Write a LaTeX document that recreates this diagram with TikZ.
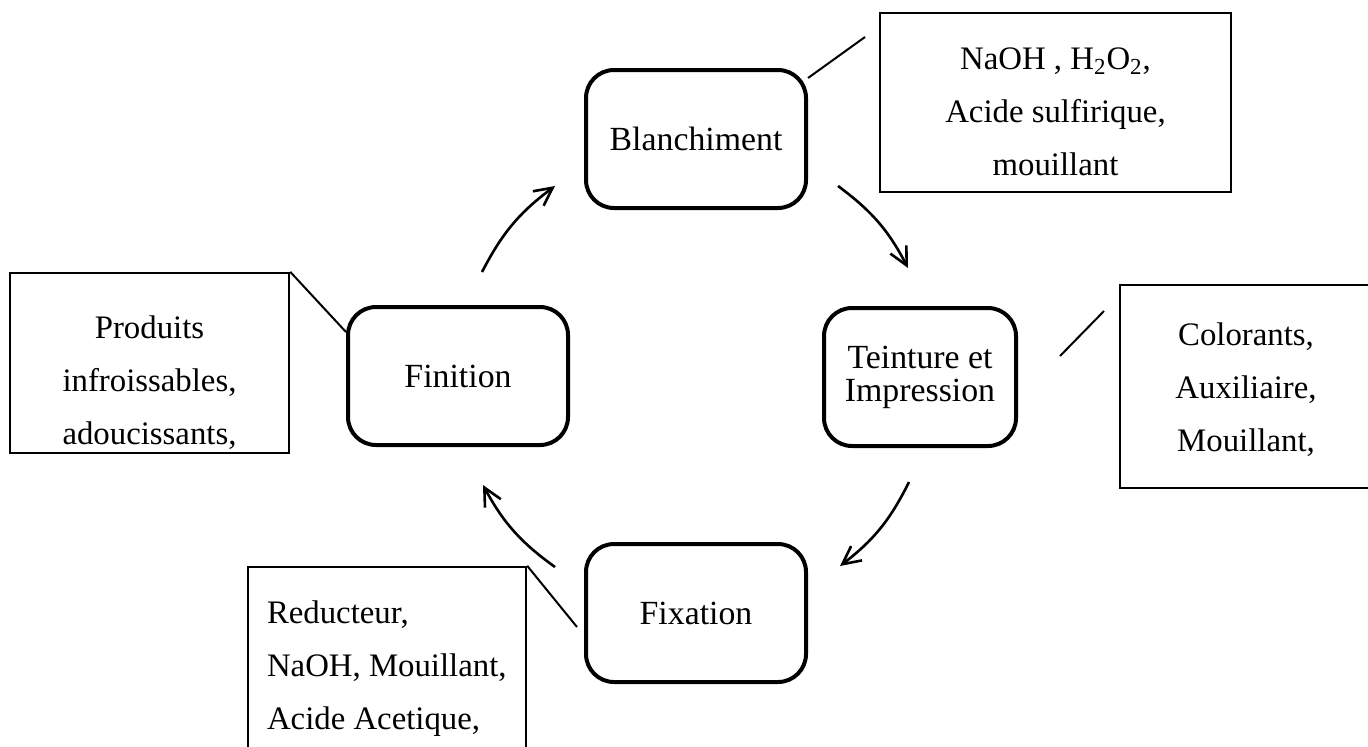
\documentclass[tikz,border=0pt]{standalone}
\usepackage{fontspec}
\setmainfont{Liberation Serif}
\usetikzlibrary{arrows.meta,positioning}

\tikzset{
  process/.style={draw, line width=2pt, rounded corners=14pt, minimum width=110pt, minimum height=69pt, align=center, font=\fontsize{16.9}{16.5}\selectfont},
  note/.style={draw, line width=1.2pt, inner sep=0pt, align=flush center},
  link/.style={line width=1pt},
  cycle/.style={-{Straight Barb[length=9pt,width=9pt]}, line width=1.3pt, bend left=13},
}

\begin{document}
\begin{tikzpicture}[x=0.5pt,y=-0.5pt,on grid,font=\fontsize{16.4}{26.5}\selectfont]
\useasboundingbox (0,0) rectangle (1368,746);
\clip (0,0) rectangle (1368,746);

% stages
\node[process] (blanch) at (696,139) {Blanchiment};
\node[process, minimum width=96pt] (teint) [below right=119pt and 112pt of blanch] {Teinture et\\Impression};
\node[process] (fixat) [below=237pt of blanch] {Fixation};
\node[process] (finit) [below left=118.5pt and 119pt of blanch] {Finition};

% products
\node[note, text width=175.5pt, text height=28pt, text depth=61.5pt] (blanchNote) [above right=18.25pt and 179.75pt of blanch] {NaOH , H\textsubscript{2}O\textsubscript{2},\\Acide sulfirique,\\mouillant};
\node[note, text width=126pt, text height=30pt, text depth=71.5pt] (teintNote) [right=163pt of teint, yshift=-4.75pt] {Colorants,\\Auxiliaire,\\Mouillant,};
\node[note, text width=139.5pt, text height=32.5pt, text depth=57.5pt] (finitNote) [left=154.25pt of finit, yshift=6.5pt] {Produits\\infroissables,\\adoucissants,};
\node[note, align=flush left, inner xsep=9.5pt, text width=120pt, text height=28pt, text depth=88.5pt] (fixatNote) [below left=35.25pt and 154.5pt of fixat] {Reducteur,\\NaOH, Mouillant,\\Acide Acetique,};

% links
\coordinate (blanchEnd) at (865,37);
\coordinate (teintA) at (1060,356);
\coordinate (teintB) at (1104,311);
\draw[link] ([yshift=30.5pt]blanch.east) -- (blanchEnd);
\draw[link] (teintA) -- (teintB);
\draw[link] (finitNote.north east) -- ([yshift=22pt]finit.west);
\draw[link] (fixatNote.north east) -- ([xshift=-3.5pt,yshift=-7pt]fixat.west);

% cycle
\coordinate (finitOut) at (482,272);
\coordinate (blanchIn) at (555,186);
\coordinate (blanchOut) at (838,186);
\coordinate (teintIn) at (908,268);
\coordinate (teintOut) at (909,482);
\coordinate (fixatIn) at (840,566);
\coordinate (fixatOut) at (555,567);
\coordinate (finitIn) at (483,485);
\path[cycle]
  (finitOut) edge (blanchIn)
  (blanchOut) edge (teintIn)
  (teintOut) edge (fixatIn)
  (fixatOut) edge (finitIn);
\end{tikzpicture}
\end{document}
